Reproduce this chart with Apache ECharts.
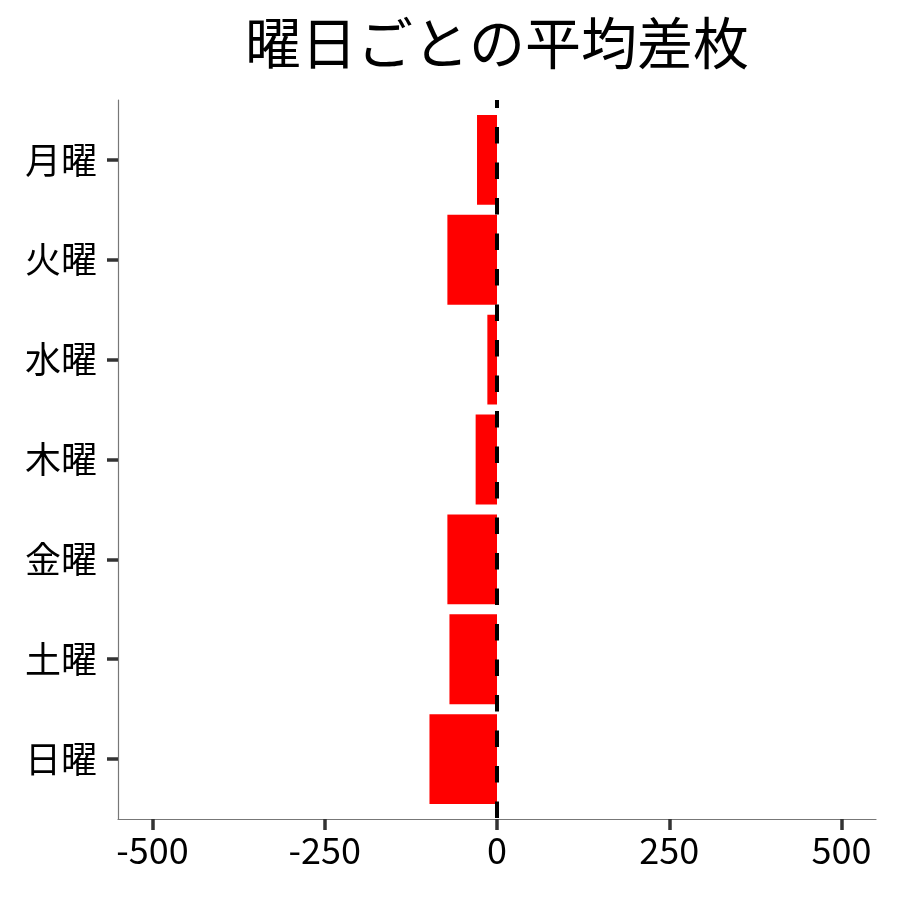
<!DOCTYPE html>
<html>
<head>
<meta charset="utf-8">
<script src="https://cdn.jsdelivr.net/npm/echarts@6/dist/echarts.min.js"></script>
<style>html,body{margin:0;padding:0;background:#fff}#c{width:900px;height:900px}</style>
</head>
<body>
<div id="c"></div>
<script>
const titleText = '曜日ごとの平均差枚';
const days = ['月曜', '火曜', '水曜', '木曜', '金曜', '土曜', '日曜'];
const avgDiff = [-29, -72, -14, -31, -72, -69, -98];
const xTicks = [-500, -250, 0, 250, 500];
const xRange = [-550, 550];
const refValue = 0;

const positions = days.map((d, i) => i + 1);
const FONT = '"Noto Sans CJK JP", "Noto Sans", sans-serif';

const chart = echarts.init(document.getElementById('c'), null, {renderer: 'canvas'});
chart.setOption({
  animation: false,
  backgroundColor: '#ffffff',
  title: {
    text: titleText,
    left: 240,
    top: 10,
    textStyle: {fontFamily: FONT, fontSize: 56, fontWeight: 'normal', color: '#000'}
  },
  grid: {left: 118, right: 24, top: 100, bottom: 81, containLabel: false},
  xAxis: {
    type: 'value',
    min: xRange[0],
    max: xRange[1],
    axisLine: {show: true, onZero: false, lineStyle: {color: '#777', width: 1.2}},
    axisTick: {show: true, length: 11, customValues: xTicks, lineStyle: {color: '#333', width: 3.5}},
    axisLabel: {customValues: xTicks, margin: 13, fontFamily: FONT, fontSize: 36, color: '#000'},
    splitLine: {show: false}
  },
  yAxis: {
    type: 'value',
    min: 0.4,
    max: days.length + 0.6,
    inverse: true,
    axisLine: {show: true, onZero: false, lineStyle: {color: '#777', width: 1.2}},
    axisTick: {show: true, length: 11, customValues: positions, lineStyle: {color: '#333', width: 3.5}},
    axisLabel: {
      customValues: positions,
      margin: 21,
      fontFamily: FONT, fontSize: 36, color: '#000',
      formatter: v => days[Math.round(v) - 1] || ''
    },
    splitLine: {show: false}
  },
  series: [
    {
      type: 'custom',
      data: avgDiff.map((v, i) => [v, positions[i]]),
      encode: {x: 0, y: 1},
      renderItem: function (params, api) {
        const p0 = api.coord([0, api.value(1)]);
        const p1 = api.coord([api.value(0), api.value(1)]);
        const h = api.size([0, 0.9])[1];
        return {
          type: 'rect',
          shape: {x: Math.min(p0[0], p1[0]), y: p0[1] - h / 2, width: Math.abs(p1[0] - p0[0]), height: h},
          style: {fill: '#ff0000'}
        };
      },
      z: 2
    },
    {
      type: 'line',
      data: [[refValue, 0.4], [refValue, days.length + 0.6]],
      symbol: 'none',
      lineStyle: {color: '#000', width: 4, type: [16.5, 19], dashOffset: 8.5},
      z: 5,
      silent: true
    }
  ]
});
</script>
</body>
</html>
